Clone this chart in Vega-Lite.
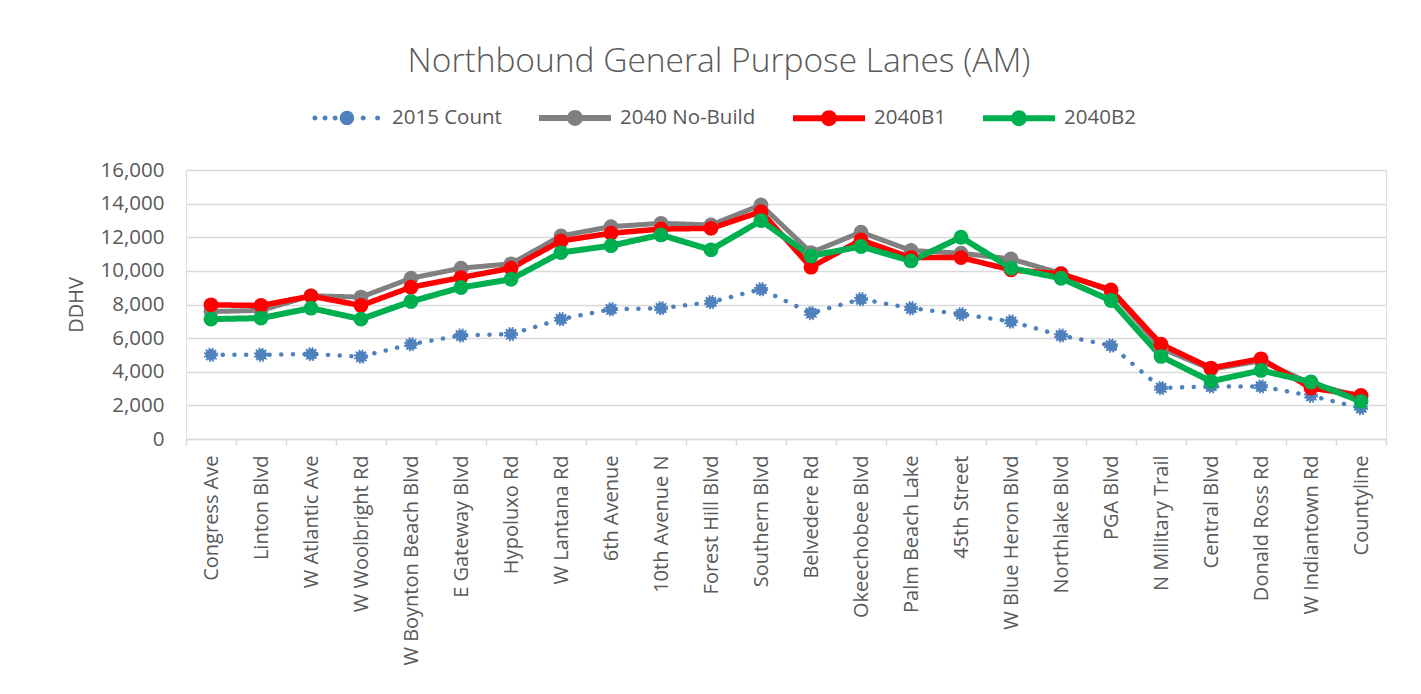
{
  "$schema": "https://vega.github.io/schema/vega-lite/v6.json",
  "autosize": "none",
  "width": 1200,
  "height": 269,
  "padding": {"left": 186, "top": 170, "right": 35, "bottom": 255},
  "background": "white",
  "title": {
    "text": "Northbound General Purpose Lanes (AM)",
    "fontSize": 33.5,
    "font": "Open Sans",
    "fontWeight": 300,
    "color": "#595959",
    "anchor": "middle",
    "dx": -67,
    "offset": 0
  },
  "data": {
    "values": [
      {"road": "Congress Ave", "2015 Count": 5010, "2040 No-Build": 7580, "2040B1": 7980, "2040B2": 7130},
      {"road": "Linton Blvd", "2015 Count": 5010, "2040 No-Build": 7650, "2040B1": 7940, "2040B2": 7190},
      {"road": "W Atlantic Ave", "2015 Count": 5050, "2040 No-Build": 8520, "2040B1": 8500, "2040B2": 7780},
      {"road": "W Woolbright Rd", "2015 Count": 4900, "2040 No-Build": 8440, "2040B1": 7940, "2040B2": 7130},
      {"road": "W Boynton Beach Blvd", "2015 Count": 5640, "2040 No-Build": 9560, "2040B1": 9030, "2040B2": 8180},
      {"road": "E Gateway Blvd", "2015 Count": 6160, "2040 No-Build": 10160, "2040B1": 9600, "2040B2": 9010},
      {"road": "Hypoluxo Rd", "2015 Count": 6240, "2040 No-Build": 10420, "2040B1": 10160, "2040B2": 9500},
      {"road": "W Lantana Rd", "2015 Count": 7130, "2040 No-Build": 12080, "2040B1": 11780, "2040B2": 11090},
      {"road": "6th Avenue", "2015 Count": 7720, "2040 No-Build": 12630, "2040B1": 12240, "2040B2": 11500},
      {"road": "10th Avenue N", "2015 Count": 7780, "2040 No-Build": 12830, "2040B1": 12490, "2040B2": 12140},
      {"road": "Forest Hill Blvd", "2015 Count": 8140, "2040 No-Build": 12730, "2040B1": 12530, "2040B2": 11250},
      {"road": "Southern Blvd", "2015 Count": 8910, "2040 No-Build": 13920, "2040B1": 13520, "2040B2": 12990},
      {"road": "Belvedere Rd", "2015 Count": 7490, "2040 No-Build": 11090, "2040B1": 10220, "2040B2": 10890},
      {"road": "Okeechobee Blvd", "2015 Count": 8320, "2040 No-Build": 12300, "2040B1": 11840, "2040B2": 11450},
      {"road": "Palm Beach Lake", "2015 Count": 7780, "2040 No-Build": 11210, "2040B1": 10790, "2040B2": 10590},
      {"road": "45th Street", "2015 Count": 7430, "2040 No-Build": 11050, "2040B1": 10790, "2040B2": 12000},
      {"road": "W Blue Heron Blvd", "2015 Count": 6990, "2040 No-Build": 10710, "2040B1": 10060, "2040B2": 10160},
      {"road": "Northlake Blvd", "2015 Count": 6160, "2040 No-Build": 9850, "2040B1": 9820, "2040B2": 9560},
      {"road": "PGA Blvd", "2015 Count": 5560, "2040 No-Build": 8800, "2040B1": 8870, "2040B2": 8240},
      {"road": "N Military Trail", "2015 Count": 3030, "2040 No-Build": 5400, "2040B1": 5640, "2040B2": 4910},
      {"road": "Central Blvd", "2015 Count": 3130, "2040 No-Build": 4150, "2040B1": 4220, "2040B2": 3430},
      {"road": "Donald Ross Rd", "2015 Count": 3130, "2040 No-Build": 4650, "2040B1": 4770, "2040B2": 4080},
      {"road": "W Indiantown Rd", "2015 Count": 2570, "2040 No-Build": 3300, "2040B1": 3030, "2040B2": 3390},
      {"road": "Countyline", "2015 Count": 1840, "2040 No-Build": 2500, "2040B1": 2590, "2040B2": 2240}
    ]
  },
  "transform": [
    {"fold": ["2015 Count", "2040 No-Build", "2040B1", "2040B2"], "as": ["series", "value"]}
  ],
  "encoding": {
    "x": {
      "field": "road",
      "type": "nominal",
      "sort": null,
      "scale": {"type": "band", "paddingInner": 0, "paddingOuter": 0},
      "axis": {
        "title": null,
        "labelAngle": -90,
        "labelFont": "Open Sans",
        "labelFontSize": 20,
        "labelColor": "#595959",
        "labelPadding": 10,
        "labelLimit": 400,
        "domainColor": "#D9D9D9",
        "domainWidth": 1.5,
        "tickColor": "#D9D9D9",
        "tickWidth": 1.5,
        "tickSize": 6,
        "tickBand": "extent",
        "grid": false
      }
    },
    "y": {
      "field": "value",
      "type": "quantitative",
      "scale": {"domain": [0, 16000], "nice": false},
      "axis": {
        "title": "DDHV",
        "titleFont": "Open Sans",
        "titleFontSize": 20,
        "titleFontWeight": "normal",
        "titleColor": "#595959",
        "titlePadding": 14,
        "values": [0, 2000, 4000, 6000, 8000, 10000, 12000, 14000, 16000],
        "format": ",.0f",
        "labelFont": "Open Sans",
        "labelFontSize": 20.5,
        "labelColor": "#595959",
        "labelPadding": 22,
        "domain": false,
        "ticks": false,
        "grid": true,
        "gridColor": "#D9D9D9",
        "gridWidth": 1.5
      }
    },
    "color": {
      "field": "series",
      "type": "nominal",
      "scale": {
        "domain": ["2015 Count", "2040 No-Build", "2040B1", "2040B2"],
        "range": ["#4F81BD", "#808080", "#FF0000", "#00B050"]
      },
      "legend": {
        "title": null,
        "orient": "none",
        "legendX": 122,
        "legendY": -91,
        "direction": "horizontal",
        "columns": 4,
        "columnPadding": 34,
        "labelOffset": 6,
        "labelFont": "Open Sans",
        "labelFontSize": 20.5,
        "labelColor": "#595959",
        "symbolSize": 5184,
        "symbolStrokeWidth": 0,
        "symbolStrokeColor": "transparent",
        "encode": {
          "symbols": {
            "enter": {
              "strokeWidth": {"value": 0},
              "strokeOpacity": {"value": 0}
            },
            "update": {
              "shape": {"signal": "datum.value === '2015 Count' ? 'M-0.96,0 A0.07,0.07 0 1,1 -0.82,0 A0.07,0.07 0 1,1 -0.96,0 Z M-0.68,0 A0.07,0.07 0 1,1 -0.54,0 A0.07,0.07 0 1,1 -0.68,0 Z M-0.40,0 A0.07,0.07 0 1,1 -0.26,0 A0.07,0.07 0 1,1 -0.40,0 Z M-0.2,0 A0.2,0.2 0 1,1 0.2,0 A0.2,0.2 0 1,1 -0.2,0 Z M0.38,0 A0.07,0.07 0 1,1 0.52,0 A0.07,0.07 0 1,1 0.38,0 Z M0.78,0 A0.07,0.07 0 1,1 0.92,0 A0.07,0.07 0 1,1 0.78,0 Z' : 'M-1,-0.08 L1,-0.08 L1,0.08 L-1,0.08 Z M-0.22,0 A0.22,0.22 0 1,1 0.22,0 A0.22,0.22 0 1,1 -0.22,0 Z'"},
              "fill": {"scale": "color", "field": "value"},
              "fillOpacity": {"value": 1},
              "stroke": {"value": "transparent"},
              "strokeOpacity": {"value": 0},
              "opacity": {"value": 1},
              "strokeWidth": {"value": 0}
            }
          }
        }
      }
    }
  },
  "layer": [
    {
      "mark": {"type": "line", "strokeCap": "round", "strokeJoin": "round"},
      "encoding": {
        "strokeDash": {
          "field": "series",
          "type": "nominal",
          "scale": {
            "domain": ["2015 Count", "2040 No-Build", "2040B1", "2040B2"],
            "range": [[0.1, 11.6], [1, 0], [1, 0], [1, 0]]
          },
          "legend": null
        },
        "strokeWidth": {
          "field": "series",
          "type": "nominal",
          "scale": {
            "domain": ["2015 Count", "2040 No-Build", "2040B1", "2040B2"],
            "range": [4.5, 6, 6, 6]
          },
          "legend": null
        }
      }
    },
    {
      "transform": [{"filter": "datum.series === '2015 Count'"}],
      "mark": {"type": "point", "filled": true, "size": 130, "opacity": 1, "strokeWidth": 3, "strokeDash": [1.5, 1.5], "stroke": "#4F81BD"}
    },
    {
      "transform": [{"filter": "datum.series !== '2015 Count'"}],
      "mark": {"type": "point", "filled": true, "size": 220, "opacity": 1}
    }
  ]
}
